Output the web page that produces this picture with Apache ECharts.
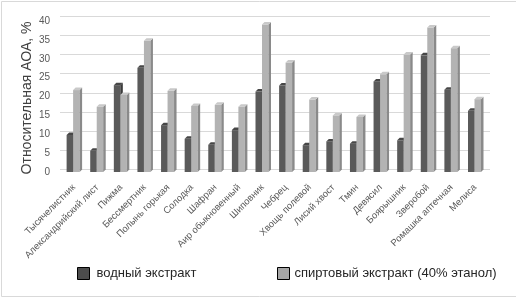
<!DOCTYPE html>
<html>
<head>
<meta charset="utf-8">
<script src="https://cdn.jsdelivr.net/npm/echarts@6/dist/echarts.min.js"></script>
<style>
  html, body { margin: 0; padding: 0; background: #fff; }
  #chart { width: 516px; height: 302px; }
</style>
</head>
<body>
<div id="chart"></div>
<script>
// categories and values
const plants = [
  'Тысячелистник', 'Александрийский лист', 'Пижма', 'Бессмертник', 'Полынь горькая',
  'Солодка', 'Шафран', 'Аир обыкновенный', 'Шиповник', 'Чебрец', 'Хвощь полевой',
  'Лисий хвост', 'Тмин', 'Девясил', 'Боярышник', 'Зверобой', 'Ромашка аптечная', 'Мелиса'
]
const waterExtract = [9.8, 5.6, 23.0, 27.6, 12.4, 8.8, 7.2, 11.1, 21.3, 22.9, 7.1, 8.1, 7.5, 24.0, 8.4, 30.9, 21.8, 16.2]
const alcoholExtract = [21.7, 17.3, 20.4, 34.8, 21.5, 17.5, 17.8, 17.3, 39.1, 29.0, 19.2, 15.0, 14.6, 25.9, 31.1, 38.3, 32.8, 19.3]
const yTicks = { min: 0, max: 40, step: 5 }

const waterName = 'водный экстракт'
const alcoholName = 'спиртовый экстракт (40% этанол)'

// front / side / top colors for the pseudo-3D bars
const palettes = [
  { front: '#5a5a5a', side: '#3c3c3c', top: '#474747' },
  { front: '#b3b3b3', side: '#8a8a8a', top: '#c9c9c9' }
]

const chart = echarts.init(document.getElementById('chart'))

function renderBar(params, api) {
  const idx = api.value(0)
  const v = api.value(1)
  const base = api.coord([idx, 0])
  const top = api.coord([idx, v])
  const s = params.seriesIndex
  const w = 6.5
  const d = 2.5
  const x0 = base[0] + (s === 0 ? -7.2 : -0.7)
  const c = palettes[s]
  return {
    type: 'group',
    children: [
      {
        type: 'rect',
        shape: { x: x0, y: top[1], width: w, height: base[1] - top[1] },
        style: { fill: c.front }
      },
      {
        type: 'polygon',
        shape: { points: [[x0 + w, top[1]], [x0 + w + d, top[1] - d], [x0 + w + d, base[1] - d], [x0 + w, base[1]]] },
        style: { fill: c.side }
      },
      {
        type: 'polygon',
        shape: { points: [[x0, top[1]], [x0 + d, top[1] - d], [x0 + w + d, top[1] - d], [x0 + w, top[1]]] },
        style: { fill: c.top }
      }
    ]
  }
}

const option = {
  animation: false,
  textStyle: { fontFamily: 'Liberation Sans, Arial, sans-serif' },
  grid: [
    { left: 62, right: 29, top: 21, bottom: 130 },
    { left: 60, right: 26, top: 16, bottom: 132.5 }
  ],
  xAxis: [
    {
      type: 'category',
      gridIndex: 0,
      data: plants,
      axisLine: { show: false },
      axisTick: { show: false },
      axisLabel: {
        interval: 0,
        rotate: 45,
        margin: 14,
        fontSize: 9.5,
        color: '#595959'
      }
    },
    { type: 'value', gridIndex: 1, min: 0, max: 1, show: false }
  ],
  yAxis: [
    {
      type: 'value',
      gridIndex: 0,
      min: yTicks.min,
      max: yTicks.max,
      interval: yTicks.step,
      axisLine: { show: false },
      axisTick: { show: false },
      splitLine: { show: false },
      axisLabel: { fontSize: 10, color: '#595959', margin: 12 }
    },
    {
      type: 'value',
      gridIndex: 1,
      min: yTicks.min,
      max: yTicks.max,
      interval: yTicks.step,
      axisLine: { show: false },
      axisTick: { show: false },
      axisLabel: { show: false },
      splitLine: { lineStyle: { color: '#d9d9d9', width: 1 } }
    }
  ],
  legend: [
    {
      left: 72, top: 262,
      itemWidth: 12, itemHeight: 12, itemGap: 0,
      textStyle: { fontSize: 13, color: '#262626', padding: [0, 0, 0, 2] },
      data: [{ name: waterName, icon: 'rect', itemStyle: { color: '#4d4d4d', borderColor: '#000', borderWidth: 1 } }]
    },
    {
      left: 272, top: 262,
      itemWidth: 12, itemHeight: 12, itemGap: 0,
      textStyle: { fontSize: 13, color: '#262626', padding: [0, 0, 0, 0] },
      data: [{ name: alcoholName, icon: 'rect', itemStyle: { color: '#a6a6a6', borderColor: '#000', borderWidth: 1 } }]
    }
  ],
  graphic: [
    {
      type: 'rect',
      shape: { x: 1.5, y: 1.5, width: 530, height: 295 },
      style: { fill: 'none', stroke: '#d9d9d9', lineWidth: 1 },
      silent: true
    },
    {
      type: 'text',
      x: 27, y: 98,
      rotation: Math.PI / 2,
      style: {
        text: 'Относительная АОА, %',
        fontSize: 14,
        fontFamily: 'Liberation Sans, Arial, sans-serif',
        fill: '#404040',
        align: 'center',
        verticalAlign: 'middle'
      }
    }
  ],
  series: [
    {
      name: waterName,
      type: 'custom',
      xAxisIndex: 0,
      yAxisIndex: 0,
      itemStyle: { color: '#4d4d4d' },
      renderItem: renderBar,
      encode: { x: 0, y: 1 },
      data: waterExtract.map((v, i) => [i, v])
    },
    {
      name: alcoholName,
      type: 'custom',
      xAxisIndex: 0,
      yAxisIndex: 0,
      itemStyle: { color: '#a6a6a6' },
      renderItem: renderBar,
      encode: { x: 0, y: 1 },
      data: alcoholExtract.map((v, i) => [i, v])
    }
  ]
}

chart.setOption(option)
</script>
</body>
</html>
